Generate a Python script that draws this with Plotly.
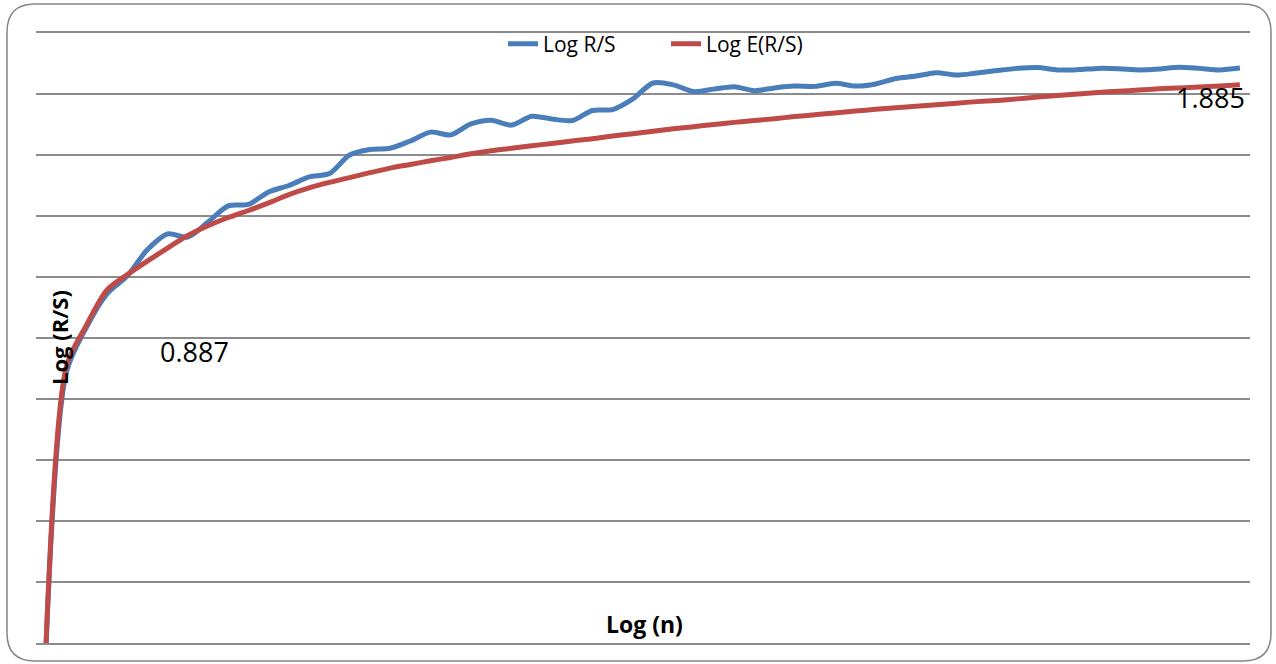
import plotly.graph_objects as go

# Category index (Log n, evenly spaced categories)
n_index = list(range(1, 61))

log_rs = [0.000, 0.887, 1.036, 1.144, 1.203, 1.289, 1.341, 1.331, 1.380, 1.433,
          1.438, 1.479, 1.500, 1.528, 1.539, 1.600, 1.618, 1.622, 1.646, 1.675,
          1.666, 1.702, 1.714, 1.698, 1.727, 1.718, 1.713, 1.746, 1.749, 1.784,
          1.836, 1.830, 1.808, 1.816, 1.824, 1.811, 1.820, 1.826, 1.825, 1.835,
          1.826, 1.833, 1.851, 1.859, 1.870, 1.862, 1.869, 1.877, 1.884, 1.887,
          1.879, 1.880, 1.884, 1.883, 1.879, 1.882, 1.888, 1.884, 1.879, 1.885]

log_ers = [0.000, 0.905, 1.043, 1.157, 1.207, 1.252, 1.295, 1.336, 1.368, 1.395,
           1.418, 1.443, 1.470, 1.492, 1.510, 1.526, 1.542, 1.557, 1.569, 1.581,
           1.592, 1.604, 1.614, 1.622, 1.630, 1.638, 1.646, 1.653, 1.662, 1.670,
           1.678, 1.686, 1.693, 1.700, 1.707, 1.713, 1.719, 1.726, 1.732, 1.738,
           1.744, 1.750, 1.755, 1.760, 1.765, 1.770, 1.775, 1.779, 1.784, 1.790,
           1.795, 1.800, 1.805, 1.809, 1.813, 1.817, 1.820, 1.823, 1.826, 1.830]

series_names = ["Log R/S", "Log E(R/S)"]
label_texts = ["0.887", "1.885"]
x_title = "Log (n)"
y_title = "Log (R/S)"

W, H = 1276, 664
L, R, T, B = 36, 26, 33, 21
pw, ph = W - L - R, H - T - B


def px2paper(px, py):
    return (px - L) / pw, (H - B - py) / ph


fig = go.Figure()
fig.add_trace(go.Scatter(x=n_index, y=log_rs, mode="lines", name=series_names[0],
                         line=dict(color="#4A7EBB", width=5, shape="spline", smoothing=0.8)))
fig.add_trace(go.Scatter(x=n_index, y=log_ers, mode="lines", name=series_names[1],
                         line=dict(color="#BE4B48", width=5, shape="spline", smoothing=0.8)))

# rounded chart border
x0, y0 = px2paper(7, 4)
x1, y1 = px2paper(1271, 661)
rx = 28 / pw
ry = 28 / ph
path = (f"M{x0 + rx},{y0} L{x1 - rx},{y0} Q{x1},{y0} {x1},{y0 - ry} "
        f"L{x1},{y1 + ry} Q{x1},{y1} {x1 - rx},{y1} L{x0 + rx},{y1} "
        f"Q{x0},{y1} {x0},{y1 + ry} L{x0},{y0 - ry} Q{x0},{y0} {x0 + rx},{y0} Z")
fig.add_shape(type="path", path=path, xref="paper", yref="paper",
              line=dict(color="#868686", width=1.5), layer="below")

font_family = "Open Sans, Lato, sans-serif"
ax, ay = px2paper(194, 351)
bx, by = px2paper(1210, 97)
fig.add_annotation(x=ax, y=ay, xref="paper", yref="paper", text=label_texts[0],
                   showarrow=False, font=dict(size=27, color="#000000", family=font_family),
                   xanchor="center", yanchor="middle")
fig.add_annotation(x=bx, y=by, xref="paper", yref="paper", text=label_texts[1],
                   showarrow=False, font=dict(size=27, color="#000000", family=font_family),
                   xanchor="center", yanchor="middle")
tx, ty = px2paper(644, 624)
fig.add_annotation(x=tx, y=ty, xref="paper", yref="paper", text=f"<b>{x_title}</b>",
                   showarrow=False, font=dict(size=23, color="#000000", family=font_family),
                   xanchor="center", yanchor="middle")
sx, sy = px2paper(59, 338)
fig.add_annotation(x=sx, y=sy, xref="paper", yref="paper", text=f"<b>{y_title}</b>",
                   showarrow=False, textangle=-90,
                   font=dict(size=22, color="#000000", family=font_family),
                   xanchor="center", yanchor="middle")

lx, ly = px2paper(666, 44)
fig.update_layout(
    width=W, height=H,
    margin=dict(l=L, r=R, t=T, b=B, pad=0),
    paper_bgcolor="white", plot_bgcolor="white",
    font=dict(family=font_family, size=21, color="#000000"),
    showlegend=True,
    legend=dict(orientation="h", x=lx, y=ly, xanchor="center", yanchor="middle",
                bgcolor="rgba(0,0,0,0)", font=dict(size=21),
                entrywidth=118, entrywidthmode="pixels", tracegroupgap=0),
    xaxis=dict(range=[0.5, 60.5], showticklabels=False, ticks="", showgrid=False,
               zeroline=False, showline=True, mirror=True,
               linecolor="#8c8c8c", linewidth=1.5),
    yaxis=dict(range=[0, 2.0], dtick=0.2, tick0=0, showticklabels=False, ticks="",
               showgrid=True, gridcolor="#8c8c8c", gridwidth=1.5,
               zeroline=False, showline=False),
)

fig.write_html("out.html", config={"displayModeBar": False},
               post_script="document.body.style.margin='0';")
